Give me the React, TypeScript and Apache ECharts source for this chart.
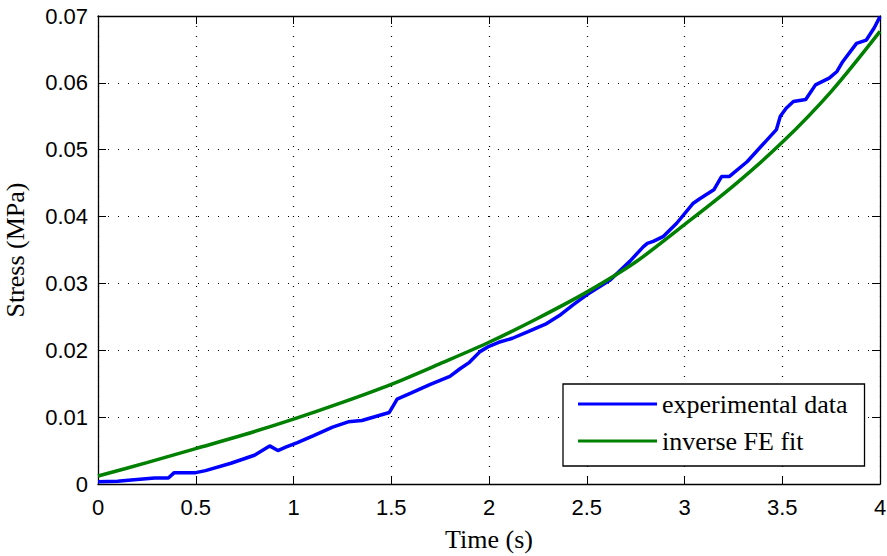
import React, { useEffect, useRef } from "react";
import * as echarts from "echarts";

const xTicks = { min: 0, max: 4, interval: 0.5 };
const yTicks = { min: 0, max: 0.07, interval: 0.01 };

const expTime = [0, 0.1, 0.17, 0.29, 0.36, 0.39, 0.5, 0.55, 0.68, 0.8, 0.878, 0.92, 0.96, 1.02, 1.1, 1.2, 1.28, 1.35, 1.42, 1.49, 1.51, 1.53, 1.6, 1.7, 1.8, 1.85, 1.9, 1.954, 2.0, 2.05, 2.12, 2.2, 2.295, 2.36, 2.43, 2.5, 2.62, 2.72, 2.79, 2.81, 2.84, 2.89, 2.96, 3.045, 3.08, 3.15, 3.19, 3.23, 3.32, 3.42, 3.47, 3.49, 3.52, 3.557, 3.62, 3.67, 3.74, 3.78, 3.81, 3.88, 3.93, 3.97, 4.0];
const expStress = [0.00035, 0.0004, 0.0006, 0.0009, 0.0009, 0.0017, 0.0017, 0.002, 0.0031, 0.0043, 0.0057, 0.005, 0.0055, 0.0062, 0.0072, 0.0085, 0.0093, 0.0095, 0.0101, 0.0107, 0.0117, 0.0127, 0.0136, 0.0149, 0.0161, 0.0172, 0.0182, 0.0198, 0.0206, 0.0212, 0.0218, 0.0228, 0.024, 0.0252, 0.0268, 0.0283, 0.0305, 0.0333, 0.0355, 0.036, 0.0363, 0.037, 0.039, 0.042, 0.0427, 0.044, 0.046, 0.046, 0.0482, 0.0514, 0.053, 0.055, 0.0562, 0.0572, 0.0575, 0.0597, 0.0607, 0.0617, 0.0632, 0.0659, 0.0664, 0.0682, 0.0699];

const fitTime = [0, 0.25, 0.5, 0.75, 1.0, 1.25, 1.5, 1.75, 2.0, 2.25, 2.5, 2.75, 3.0, 3.25, 3.5, 3.75, 4.0];
const fitStress = [0.0012, 0.0032, 0.0053, 0.0074, 0.0097, 0.0122, 0.0149, 0.018, 0.0212, 0.0248, 0.0287, 0.0332, 0.0388, 0.0446, 0.0511, 0.0587, 0.0677];

const seriesNames = ["experimental data", "inverse FE fit"];

const serif = "'Liberation Serif', 'Times New Roman', serif";
const sans = "'Liberation Sans', Arial, sans-serif";

export default function App() {
  const ref = useRef<HTMLDivElement>(null);
  useEffect(() => {
    if (!ref.current) return;
    const chart = echarts.init(ref.current, null, { renderer: "svg" });
    const tickStyle = { show: true, inside: true, length: 8, lineStyle: { color: "#000", width: 1 } };
    const lineStyleAxis = { show: true, onZero: false, lineStyle: { color: "#000", width: 1.3 } };
    const split = { show: true, lineStyle: { color: "#000", type: [1, 9] as any, width: 1.2 } };
    chart.setOption({
      animation: false,
      backgroundColor: "#fff",
      grid: { left: 98, right: 7, top: 16, bottom: 72, containLabel: false, outerBoundsMode: "none" },
      legend: {
        orient: "vertical",
        left: 563,
        top: 384,
        padding: [7, 17, 12, 15],
        itemGap: 11,
        itemWidth: 79,
        itemHeight: 3,
        icon: "rect",
        backgroundColor: "#fff",
        borderColor: "#000",
        borderWidth: 1.3,
        borderRadius: 0,
        textStyle: { fontFamily: serif, fontSize: 26, color: "#000", padding: [0, 0, 0, 0] },
        data: seriesNames,
      },
      xAxis: [
        {
          type: "value",
          min: xTicks.min,
          max: xTicks.max,
          interval: xTicks.interval,
          position: "bottom",
          name: "Time (s)",
          nameLocation: "middle",
          nameGap: 42,
          nameTextStyle: { fontFamily: serif, fontSize: 26, color: "#000" },
          axisLine: lineStyleAxis,
          axisTick: tickStyle,
          axisLabel: { fontFamily: sans, fontSize: 22, color: "#000", margin: 12 },
          splitLine: split,
        },
        {
          type: "value",
          min: xTicks.min,
          max: xTicks.max,
          interval: xTicks.interval,
          position: "top",
          axisLine: lineStyleAxis,
          axisTick: tickStyle,
          axisLabel: { show: false },
          splitLine: { show: false },
        },
      ],
      yAxis: [
        {
          type: "value",
          min: yTicks.min,
          max: yTicks.max,
          interval: yTicks.interval,
          position: "left",
          name: "Stress (MPa)",
          nameLocation: "middle",
          nameGap: 70,
          nameTextStyle: { fontFamily: serif, fontSize: 26, color: "#000" },
          axisLine: lineStyleAxis,
          axisTick: tickStyle,
          axisLabel: { fontFamily: sans, fontSize: 22, color: "#000", margin: 10 },
          splitLine: split,
        },
        {
          type: "value",
          min: yTicks.min,
          max: yTicks.max,
          interval: yTicks.interval,
          position: "right",
          axisLine: lineStyleAxis,
          axisTick: tickStyle,
          axisLabel: { show: false },
          splitLine: { show: false },
        },
      ],
      series: [
        {
          name: seriesNames[0],
          type: "line",
          showSymbol: false,
          symbol: "none",
          data: expTime.map((t, i) => [t, expStress[i]]),
          lineStyle: { color: "#0000ff", width: 3.5 },
          itemStyle: { color: "#0000ff" },
        },
        {
          name: seriesNames[1],
          type: "line",
          showSymbol: false,
          symbol: "none",
          smooth: 0.3,
          data: fitTime.map((t, i) => [t, fitStress[i]]),
          lineStyle: { color: "#008000", width: 3.5 },
          itemStyle: { color: "#008000" },
        },
      ],
    });
    return () => chart.dispose();
  }, []);
  return (
    <div
      ref={ref}
      style={{ position: "absolute", left: 0, top: 0, width: 887, height: 556, background: "#fff" }}
    />
  );
}
